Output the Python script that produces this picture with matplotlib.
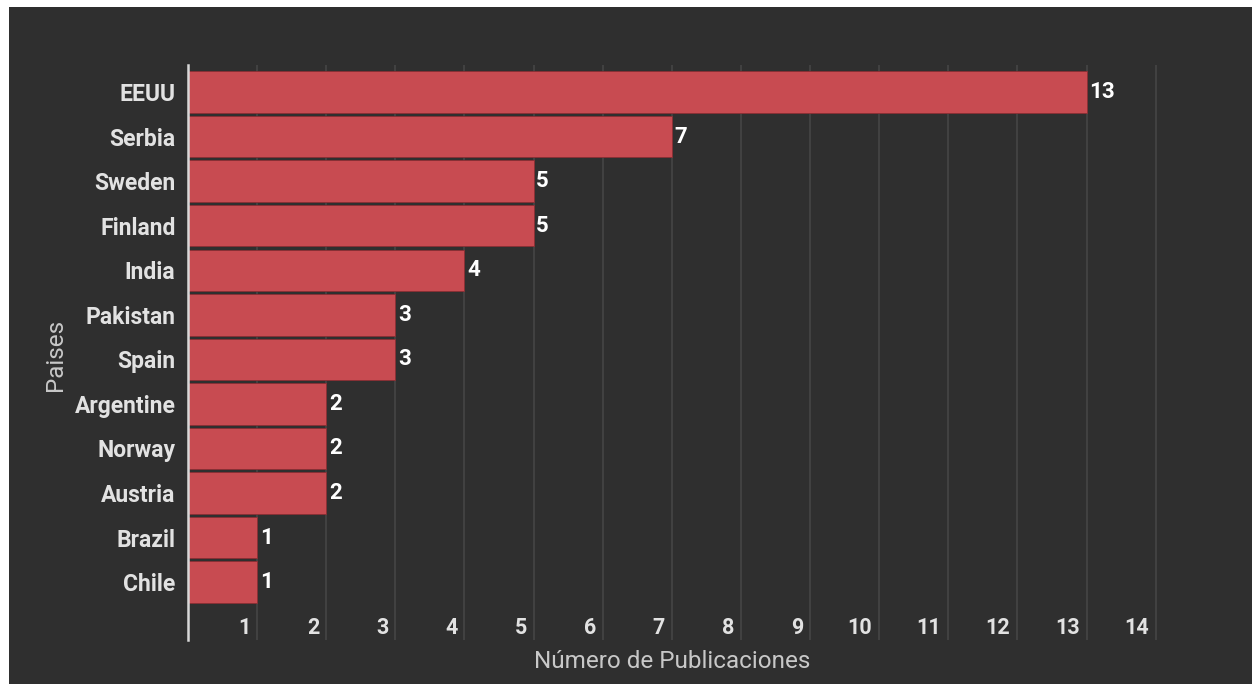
import matplotlib
matplotlib.use("Agg")
import matplotlib.pyplot as plt
from matplotlib.patches import Rectangle

countries = ["EEUU", "Serbia", "Sweden", "Finland", "India", "Pakistan", "Spain",
             "Argentine", "Norway", "Austria", "Brazil", "Chile"]
publications = [13, 7, 5, 5, 4, 3, 3, 2, 2, 2, 1, 1]
xticks = list(range(1, 15))

BG = "#2f2f2f"
BAR = "#c84b51"
TXT = "#e2e2e2"
plt.rcParams['font.family'] = ['Roboto', 'DejaVu Sans']

fig = plt.figure(figsize=(12.52, 6.84), dpi=100, facecolor="white")
fig.patches.append(Rectangle((9/1252, 0), 1 - 9/1252, 1 - 7/684,
                             transform=fig.transFigure, facecolor=BG,
                             edgecolor="none", zorder=-10))
ax = fig.add_axes([188/1252, 1 - 640/684, (1166 - 188)/1252, (640 - 65)/684])
ax.set_facecolor(BG)

ypos = list(range(len(countries)))
ax.barh(ypos, publications, height=0.93, color=BAR, edgecolor="#8a2e33",
        linewidth=0.6, zorder=3)
ax.set_xlim(0, 14.15)
ax.set_ylim(12.3, -0.607)

for x in xticks:
    ax.axvline(x, color="#454545", linewidth=1.2, zorder=1)
    ax.text(x - 0.1, 12.03, str(x), ha="right", va="center", color=TXT,
            fontsize=15.5, fontweight="bold", zorder=4)

for y, v in zip(ypos, publications):
    ax.text(v + 0.04, y, str(v), ha="left", va="center", color="white",
            fontsize=16, fontweight="bold", zorder=4)

ax.set_yticks(ypos)
ax.set_yticklabels(countries, color=TXT, fontsize=16.5, fontweight="bold")
ax.tick_params(axis="y", length=0, pad=9)
ax.set_xticks([])
for s in ["top", "right", "bottom"]:
    ax.spines[s].set_visible(False)
ax.spines["left"].set_color("#d8d8d8")
ax.spines["left"].set_linewidth(1.8)
ax.spines["left"].set_zorder(5)

fig.text(672/1252, 1 - 661/684, "Número de Publicaciones", ha="center",
         va="center", color="#c8c8c8", fontsize=17.5)
fig.text(55/1252, 1 - 355/684, "Paises", ha="center", va="center",
         rotation=90, color="#c8c8c8", fontsize=17.5)

fig.savefig("out.png", dpi=100, facecolor=fig.get_facecolor())
